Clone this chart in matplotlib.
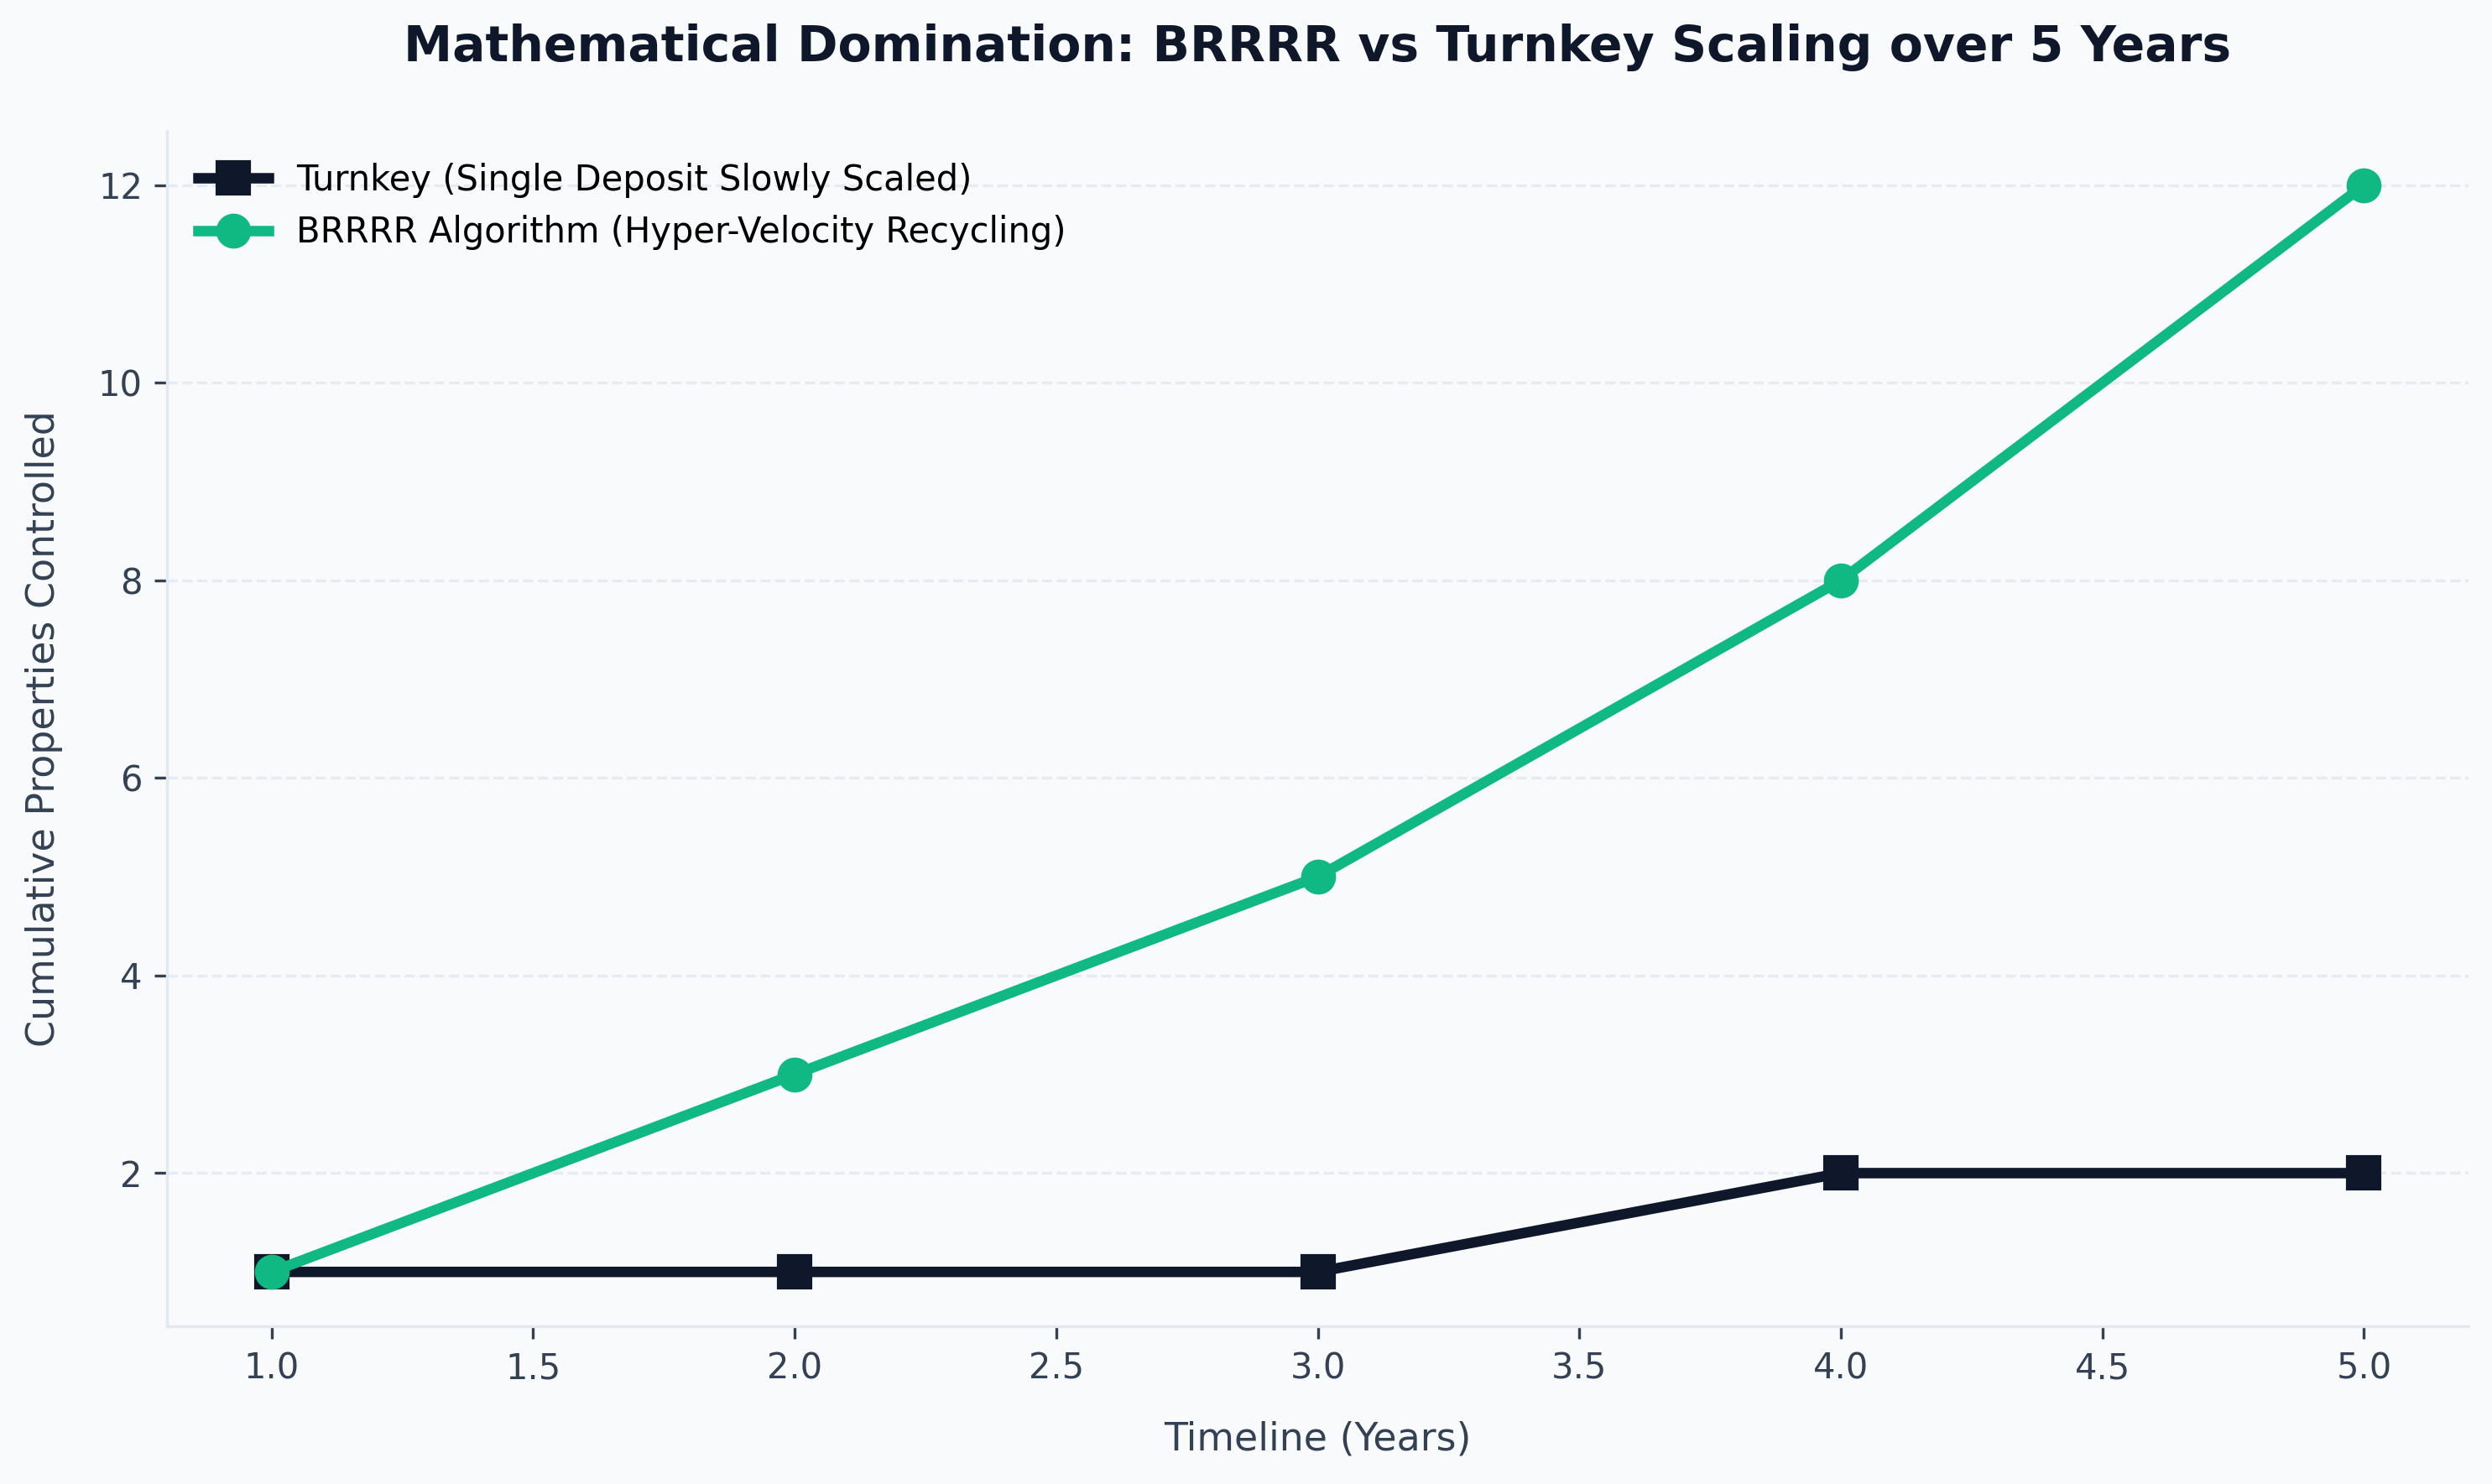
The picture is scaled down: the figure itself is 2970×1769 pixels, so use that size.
import matplotlib
matplotlib.use("Agg")
import matplotlib.pyplot as plt

years = [1, 2, 3, 4, 5]
turnkey = [1, 1, 1, 2, 2]
brrrr = [1, 3, 5, 8, 12]
turnkey_label = "Turnkey (Single Deposit Slowly Scaled)"
brrrr_label = "BRRRR Algorithm (Hyper-Velocity Recycling)"
title = "Mathematical Domination: BRRRR vs Turnkey Scaling over 5 Years"
xlabel = "Timeline (Years)"
ylabel = "Cumulative Properties Controlled"

BG = "#f8fafc"
NAVY = "#0f172a"
GREEN = "#10b981"
TXT = "#334155"
LIGHT = "#e2e8f0"

plt.rcParams['font.family'] = ['DejaVu Sans']

fig = plt.figure(figsize=(9.9, 5.8967), dpi=300, facecolor=BG)
ax = fig.add_axes([0.0670, 0.1063, 0.9236, 0.8055])
ax.set_facecolor(BG)

ax.plot(years, turnkey, color=NAVY, marker='s', markersize=9, linewidth=3, label=turnkey_label)
ax.plot(years, brrrr, color=GREEN, marker='o', markersize=9, linewidth=3, label=brrrr_label)

ax.set_title(title, fontsize=14, fontweight='bold', color=NAVY, pad=20)
ax.set_xlabel(xlabel, fontsize=11, color=TXT, labelpad=10)
ax.set_ylabel(ylabel, fontsize=11, color=TXT, labelpad=10)

ax.tick_params(axis='both', colors=TXT, labelsize=10)
for s in ['top', 'right']:
    ax.spines[s].set_visible(False)
for s in ['left', 'bottom']:
    ax.spines[s].set_color(LIGHT)

ax.yaxis.grid(True, linestyle='--', color=LIGHT, linewidth=0.8, alpha=0.8)
ax.set_axisbelow(True)

ax.legend(loc='upper left', frameon=False, fontsize=10)

fig.savefig("out.png", dpi=300, facecolor=BG)
